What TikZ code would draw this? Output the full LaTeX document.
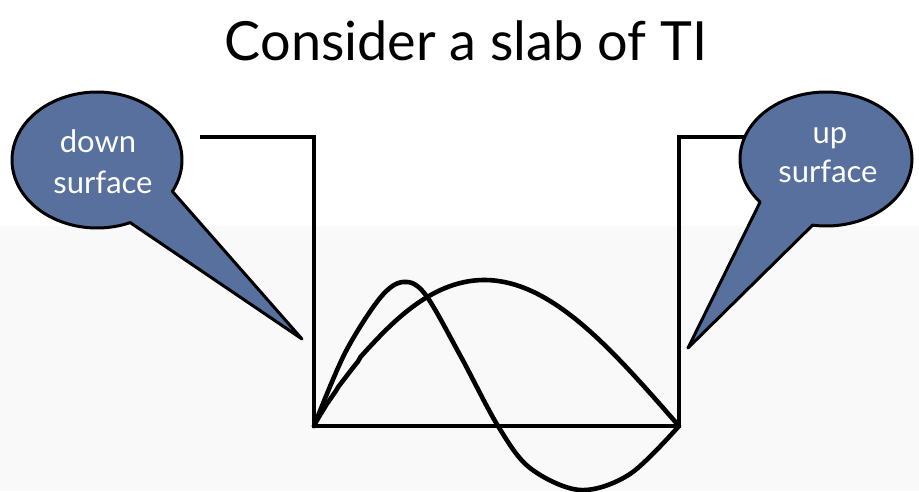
\documentclass[tikz,border=0pt]{standalone}
\usepackage{fontspec}
\setmainfont{Lato}
\definecolor{calloutblue}{RGB}{88,112,158}
\definecolor{lowgray}{RGB}{249,249,249}
\tikzset{
  wall/.style={line width=4.8pt, line join=miter},
  wave/.style={line width=4.6pt, line cap=round},
  bubble/.style={fill=calloutblue, draw=black, line width=3pt, line join=round},
  bubbletext/.style={text=white, font=\fontsize{31}{31}\selectfont, anchor=base, inner sep=0pt},
  titletext/.style={font=\fontsize{54}{54}\selectfont, anchor=base, inner sep=0pt}
}
\begin{document}
\begin{tikzpicture}[x=1pt,y=-1pt]
\useasboundingbox (0,0) rectangle (919,491);
\fill[white] (0,0) rectangle (919,491);
\fill[lowgray] (0,226) rectangle (919,491);
% title
\node[titletext] (title) at (466,60) {Consider a slab of TI};
% well
\coordinate (lt) at (200,137);
\coordinate (lc) at (314,137);
\coordinate (lb) at (314,426);
\coordinate (rb) at (679,426);
\coordinate (rc) at (679,137);
\coordinate (rt) at (760,137);
\draw[wall] (lt) -- (lc) -- (lb) -- (rb) -- (rc) -- (rt);
% waves
\draw[wave] plot[domain=0:1, samples=150] ({314+365*\x},{426-146*sin(180*(\x)^0.91)});
\draw[wave] plot[smooth, tension=0.55] coordinates {(314,426) (345,353) (380,298) (403,282) (425,294) (460,355) (498,426) (530,468) (580,490) (630,474) (679,426)};
% left callout
\coordinate (ltip) at (302,339);
\draw[bubble] plot[domain=67:387.5, samples=120, smooth] ({97+85*cos(\x)},{160+68*sin(\x)}) -- (ltip) -- cycle;
\node[bubbletext] (ldown) at (98,152) {down};
\node[bubbletext] (lsurf) at (103,193) {surface};
% right callout
\coordinate (rtip) at (688,348);
\draw[bubble] plot[domain=140:459, samples=120, smooth] ({826+86*cos(\x)},{159+67*sin(\x)}) -- (rtip) -- cycle;
\node[bubbletext] (rup) at (830,143) {up};
\node[bubbletext] (rsurf) at (828,182) {surface};
\end{tikzpicture}
\end{document}
